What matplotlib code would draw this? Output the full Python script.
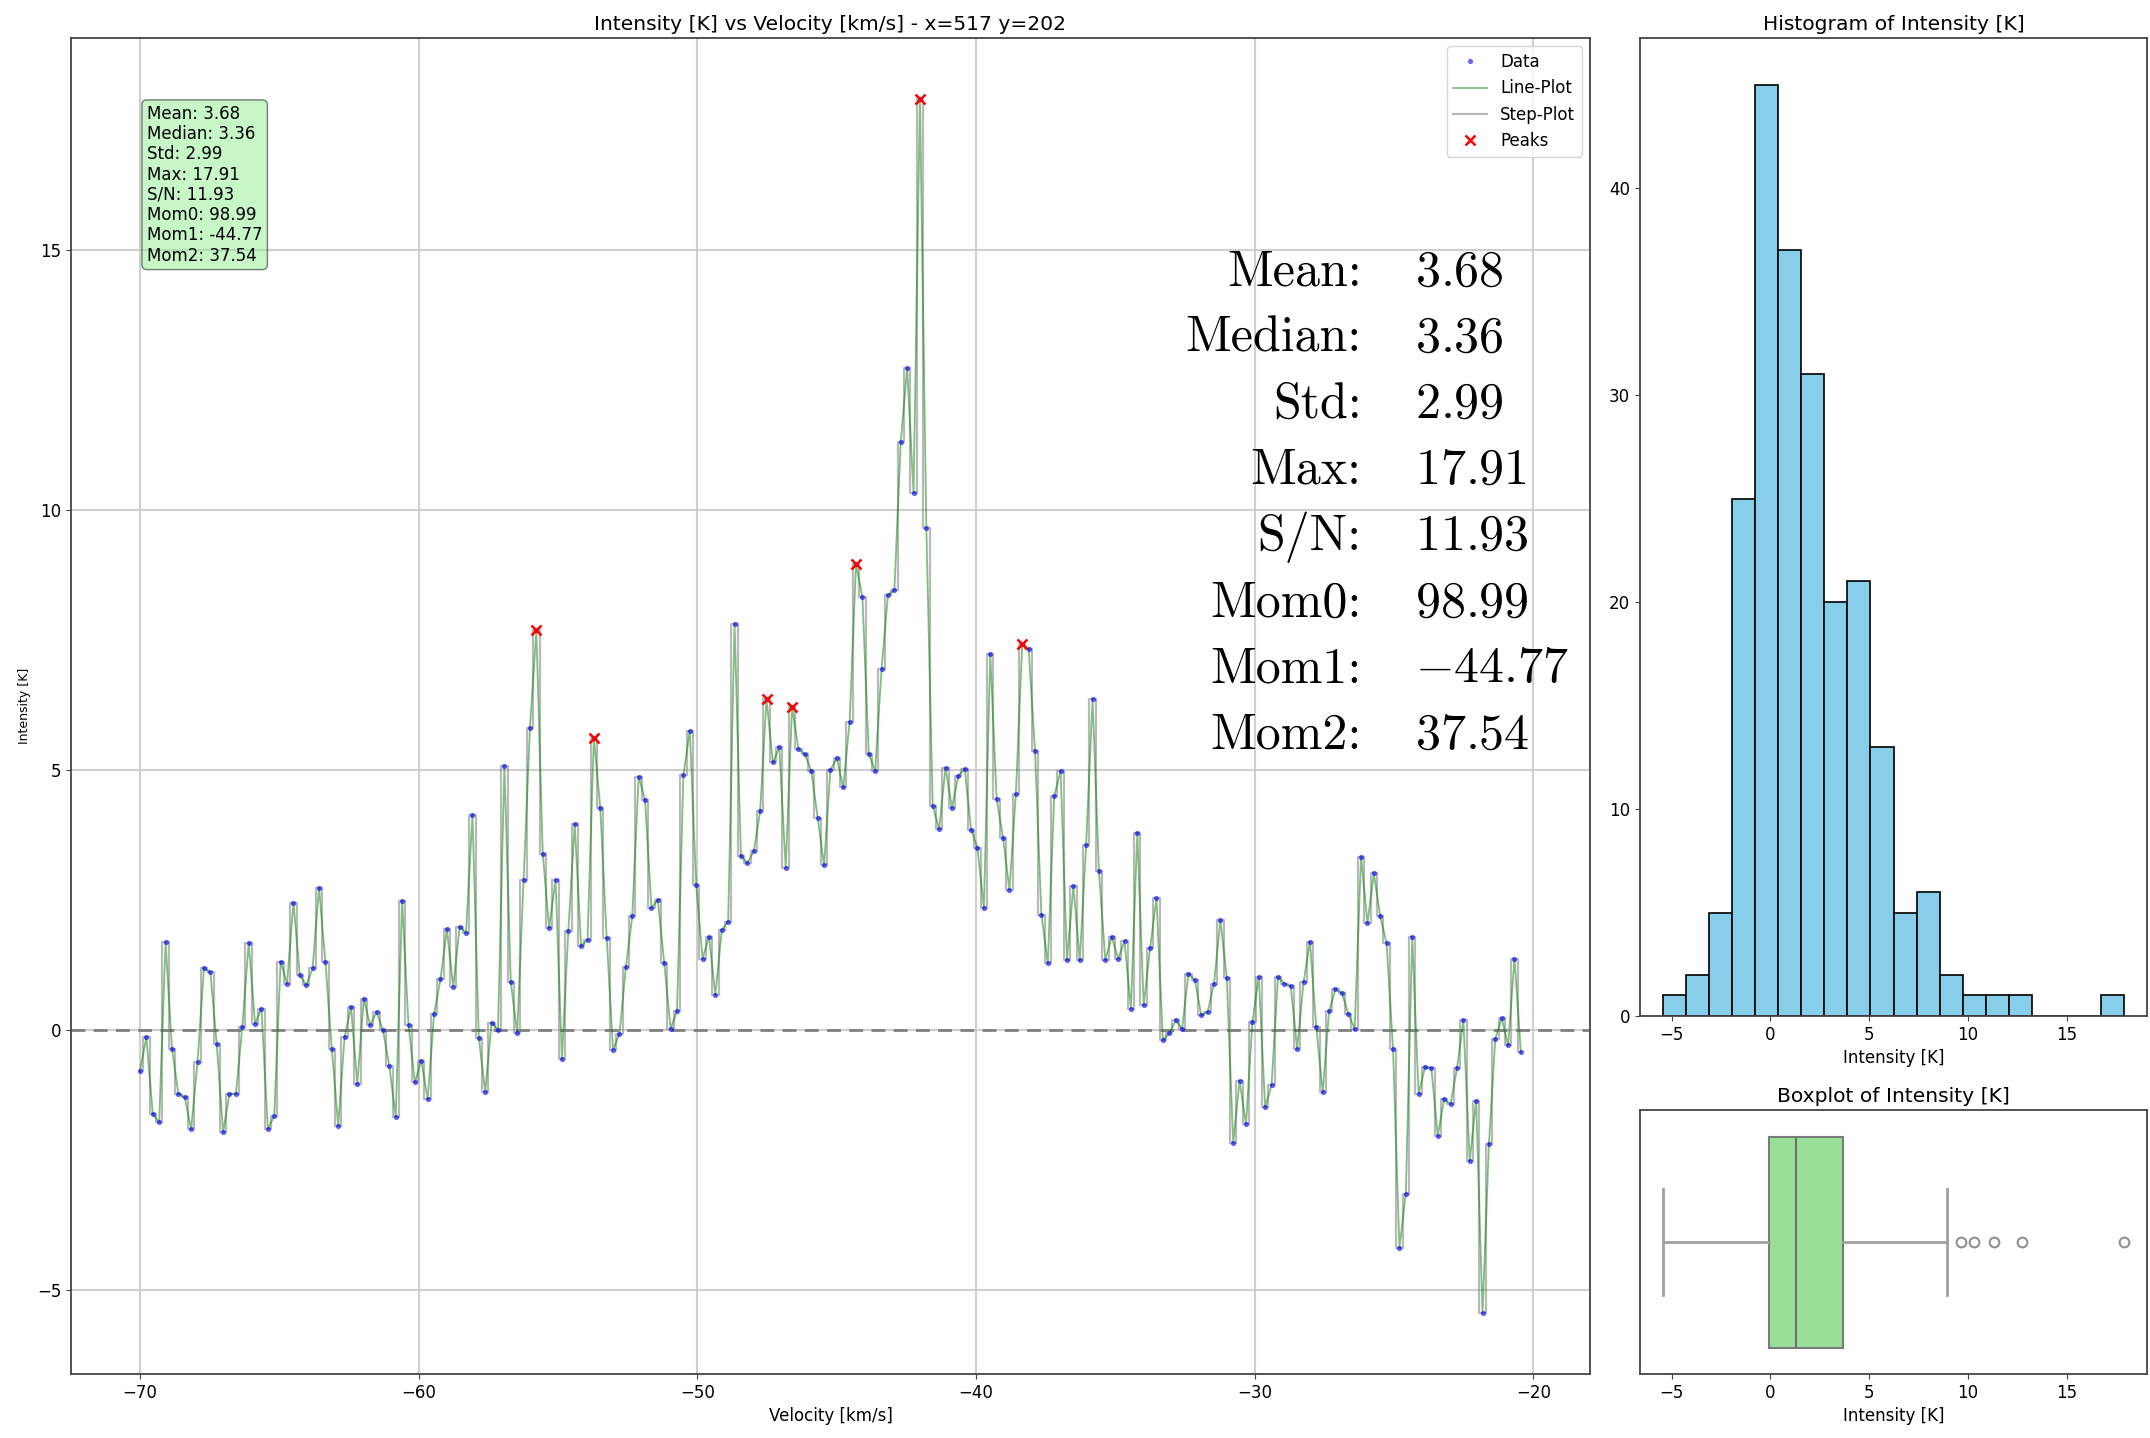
import numpy as np
import matplotlib
matplotlib.use('Agg')
import matplotlib.pyplot as plt

plt.rcParams['font.family'] = ['DejaVu Sans']
plt.rcParams['mathtext.fontset'] = 'cm'
plt.rcParams['font.size'] = 12

# spectrum (one value per channel)
intensity = np.array([
    -0.78, -0.13, -1.61, -1.77, 1.70, -0.35, -1.22, -1.29, -1.90, -0.61,
    1.19, 1.13, -0.26, -1.96, -1.22, -1.22, 0.06, 1.67, 0.13, 0.42,
    -1.90, -1.64, 1.32, 0.90, 2.45, 1.06, 0.87, 1.19, 2.74, 1.32,
    -0.35, -1.83, -0.13, 0.45, -1.03, 0.61, 0.10, 0.35, 0.00, -0.68,
    -1.67, 2.48, 0.10, -1.00, -0.58, -1.32,
    0.31, 0.98, 1.94, 0.84, 1.99, 1.88, 4.14, -0.15, -1.18, 0.15,
    0.01, 5.08, 0.92, -0.05, 2.89, 5.82, 7.69, 3.40, 1.97, 2.89,
    -0.55, 1.91, 3.96, 1.62, 1.74, 5.63, 4.27, 1.78, -0.37, -0.07,
    1.21, 2.19, 4.88, 4.43, 2.35, 2.51, 1.30, 0.03, 0.37, 4.90,
    5.76, 2.80, 1.38, 1.80,
    0.68, 1.93, 2.09, 7.82, 3.35, 3.22, 3.44, 4.21, 6.37, 5.15,
    5.44, 3.12, 6.21, 5.41, 5.31, 4.99, 4.09, 3.17, 5.01, 5.23,
    4.67, 5.93, 8.96, 8.33, 5.31, 4.99, 6.95, 8.37, 8.46, 11.32,
    12.73, 10.33, 17.91, 9.66, 4.31, 3.87, 5.05, 4.28, 4.89,
    5.03, 3.86, 3.51, 2.35, 7.24, 4.44, 3.70, 2.70, 4.54, 7.43,
    7.34, 5.37, 2.22, 1.29, 4.50, 4.99, 1.35, 2.77, 1.35, 3.57,
    6.38, 3.06, 1.35, 1.80, 1.38, 1.71, 0.42, 3.80, 0.48, 1.58,
    2.54, -0.19, -0.06, 0.19, 0.03, 1.09, 0.97, 0.29, 0.35, 0.90,
    2.12, 1.00,
    -2.16, -0.97, -1.80, 0.16, 1.03, -1.48, -1.06, 1.03, 0.90, 0.85,
    -0.35, 0.92, 1.70, 0.06, -1.19, 0.37, 0.79, 0.72, 0.32, 0.03,
    3.33, 2.06, 3.02, 2.19, 1.67, -0.35, -4.18, -3.14, 1.80, -1.22,
    -0.71, -0.73, -2.03, -1.32, -1.42, -0.73, 0.19, -2.51, -1.35, -5.44,
    -2.19, -0.16, 0.23, -0.29, 1.38, -0.42,
])
v_start, v_end = -70.0, -20.45
velocity = np.linspace(v_start, v_end, len(intensity))
peak_idx = [62, 71, 98, 102, 112, 122, 138]

stat_names = ['Mean', 'Median', 'Std', 'Max', 'S/N', 'Mom0', 'Mom1', 'Mom2']
stat_values = ['3.68', '3.36', '2.99', '17.91', '11.93', '98.99', '-44.77', '37.54']

fig = plt.figure(figsize=(21.5, 14.38), dpi=100)
ax = fig.add_axes([0.033, 0.0445, 0.7065, 0.929])
ax_hist = fig.add_axes([0.7628, 0.2934, 0.2358, 0.6802])
ax_box = fig.add_axes([0.7628, 0.0445, 0.2358, 0.1835])

# main spectrum
ax.plot(velocity, intensity, 'o', color='blue', ms=2.8, alpha=0.5, label='Data', zorder=4)
ax.plot(velocity, intensity, color='green', lw=1.3, alpha=0.5, label='Line-Plot', zorder=3)
ax.step(velocity, intensity, where='mid', color='gray', lw=1.6, alpha=0.55, label='Step-Plot', zorder=2)
ax.plot(velocity[peak_idx], intensity[peak_idx], 'x', color='red', ms=7, mew=1.8, label='Peaks', zorder=5)
ax.axhline(0, color='gray', ls='--', lw=2, dashes=(5, 3), zorder=1)
ax.grid(True, color='#cfcfcf', lw=1.5)
ax.set_axisbelow(True)
ax.set_title('Intensity [K] vs Velocity [km/s] - x=517 y=202', fontsize=14.6)
ax.set_xlabel('Velocity [km/s]', fontsize=12)
ax.set_ylabel('Intensity [K]', fontsize=9)
ax.set_yticks([-5, 0, 5, 10, 15])
ax.legend(loc='upper right', fontsize=12)

box_text = '\n'.join('{}: {}'.format(n, s) for n, s in zip(stat_names, stat_values))
ax.text(0.05, 0.95, box_text, transform=ax.transAxes, va='top', ha='left', fontsize=12,
        linespacing=1.16, bbox=dict(boxstyle='round', facecolor='lightgreen', alpha=0.5))

# big serif summary on the plot
for k, (n, s) in enumerate(zip(stat_names, stat_values)):
    y = 0.815 - k * 0.04955
    ax.text(0.8496, y, n + ':', transform=ax.transAxes, family='cmr10',
            ha='right', va='baseline', fontsize=36)
    ax.text(0.8848, y, '$' + s + '$', transform=ax.transAxes,
            ha='left', va='baseline', fontsize=36)

# histogram
ax_hist.hist(intensity, bins=20, color='skyblue', edgecolor='black', lw=1.2)
ax_hist.set_title('Histogram of Intensity [K]', fontsize=14.6)
ax_hist.set_xlabel('Intensity [K]', fontsize=12)
ax_hist.set_xticks([-5, 0, 5, 10, 15])

# boxplot
ax_box.boxplot(intensity, vert=False, widths=0.8, patch_artist=True,
               boxprops=dict(facecolor='#98e098', edgecolor='#7a7a7a', lw=1.5),
               whiskerprops=dict(color='#a0a0a0', lw=2),
               capprops=dict(color='#a0a0a0', lw=2),
               medianprops=dict(color='#707070', lw=1.5),
               flierprops=dict(marker='o', mfc='none', mec='#909090', ms=7, mew=1.5))
ax_box.set_ylim(0.5, 1.5)
ax_box.set_yticks([])
ax_box.set_xlim(ax_hist.get_xlim())
ax_box.set_xticks([-5, 0, 5, 10, 15])
ax_box.set_title('Boxplot of Intensity [K]', fontsize=14.6)
ax_box.set_xlabel('Intensity [K]', fontsize=12)

for a in (ax, ax_hist, ax_box):
    for sp in a.spines.values():
        sp.set_color('#444444')
        sp.set_linewidth(1.3)
    a.tick_params(labelsize=12, color='#444444')

fig.savefig('out.png', dpi=100)
